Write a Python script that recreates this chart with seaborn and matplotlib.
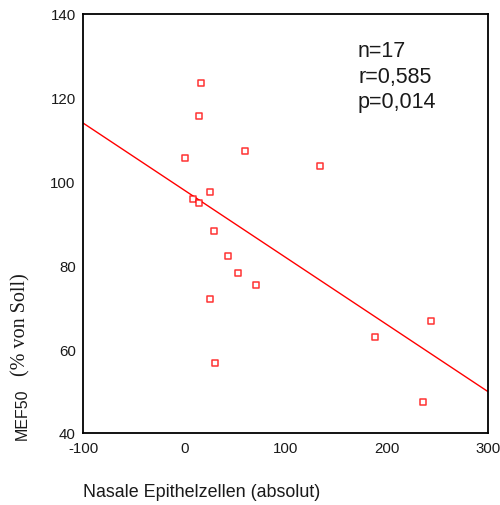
import matplotlib
matplotlib.use("Agg")
import matplotlib.pyplot as plt
import seaborn as sns
import pandas as pd

epithel = [16.5, 14.3, 0.1, 59.4, 133.5, 25.1, 8.6, 14.3, 29.1, 42.9, 52.5, 70.3, 25.1, 30.4, 243.4, 188.4, 235.2]
mef50 = [123.5, 115.6, 105.6, 107.3, 103.6, 97.4, 95.8, 94.8, 88.2, 82.2, 78.2, 75.2, 71.9, 56.7, 66.6, 63.0, 47.4]
x_ticks = [-100, 0, 100, 200, 300]
y_ticks = [40, 60, 80, 100, 120, 140]
stats_lines = ["n=17", "r=0,585", "p=0,014"]

df = pd.DataFrame({"x": epithel, "y": mef50})

sns.set_style("white")
plt.rcParams["font.family"] = ["Liberation Sans", "DejaVu Sans"]

fig = plt.figure(figsize=(5.0, 5.06), dpi=100)
ax = fig.add_axes([0.1666, 0.1423, 0.81, 0.829])
ax.set_xlim(-100, 300)
ax.set_ylim(40, 140)

sns.regplot(data=df, x="x", y="y", ax=ax, ci=None, truncate=False,
            marker="s",
            scatter_kws=dict(s=22, facecolors="white", edgecolors="red", linewidths=1.1, zorder=3),
            line_kws=dict(color="red", linewidth=1.0, zorder=2))

ax.set_xlim(-100, 300)
ax.set_ylim(40, 140)
ax.set_xticks(x_ticks)
ax.set_yticks(y_ticks)
ax.set_xticklabels([str(v) for v in x_ticks])
ax.set_yticklabels([str(v) for v in y_ticks])
ax.tick_params(axis="both", direction="out", length=2.5, width=2, color="black",
               labelsize=10.8, pad=3, labelcolor="#1a1a1a")
for s in ax.spines.values():
    s.set_color("black")
    s.set_linewidth(1.3)
ax.set_xlabel("")
ax.set_ylabel("")

fig.text(83 / 500, 1 - 493 / 506, "Nasale Epithelzellen (absolut)", fontsize=12.9,
         ha="left", va="center", color="#1a1a1a")

fig.text(0.045, 1 - 414 / 506, "MEF50", fontsize=11.5, rotation=90, ha="center", va="center",
         color="#1a1a1a")
fig.text(0.042, 1 - 325 / 506, "(% von Soll)", fontsize=14.5, rotation=90, ha="center", va="center",
         color="#1a1a1a", family=["Liberation Serif", "DejaVu Serif"])

for line, base in zip(stats_lines, [57, 83, 108]):
    fig.text(358 / 500, 1 - base / 506, line, fontsize=15.5, ha="left", va="baseline",
             color="#1a1a1a")

fig.savefig("out.png", dpi=100)
